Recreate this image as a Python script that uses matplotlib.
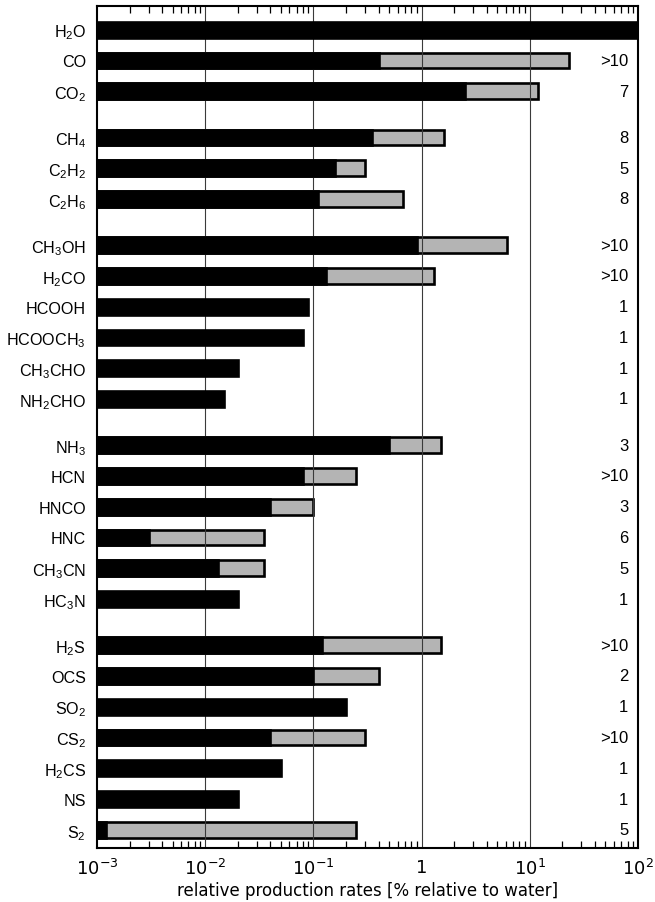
import numpy as np
import matplotlib
matplotlib.use("Agg")
import matplotlib.pyplot as plt
from matplotlib.ticker import LogLocator, NullFormatter, FixedLocator, FixedFormatter
import matplotlib.transforms as mtransforms

plt.rcParams['mathtext.fontset'] = 'custom'
plt.rcParams['mathtext.rm'] = 'Liberation Sans'
plt.rcParams['mathtext.it'] = 'Liberation Sans:italic'
plt.rcParams['mathtext.bf'] = 'Liberation Sans:bold'

# Molecules, grouped by chemical family
molecules = ['H$_2$O', 'CO', 'CO$_2$',
             'CH$_4$', 'C$_2$H$_2$', 'C$_2$H$_6$',
             'CH$_3$OH', 'H$_2$CO', 'HCOOH', 'HCOOCH$_3$', 'CH$_3$CHO', 'NH$_2$CHO',
             'NH$_3$', 'HCN', 'HNCO', 'HNC', 'CH$_3$CN', 'HC$_3$N',
             'H$_2$S', 'OCS', 'SO$_2$', 'CS$_2$', 'H$_2$CS', 'NS', 'S$_2$']
group = [0, 0, 0,
         1, 1, 1,
         2, 2, 2, 2, 2, 2,
         3, 3, 3, 3, 3, 3,
         4, 4, 4, 4, 4, 4, 4]

# Production rates relative to water [%]: lowest and highest measured value
rate_min = [100, 0.4, 2.5,
            0.35, 0.16, 0.11,
            0.9, 0.13, 0.09, 0.08, 0.02, 0.015,
            0.5, 0.08, 0.04, 0.003, 0.013, 0.02,
            0.12, 0.1, 0.2, 0.04, 0.05, 0.02, 0.0012]
rate_max = [None, 23, 12,
            1.6, 0.3, 0.68,
            6.2, 1.3, None, None, None, None,
            1.5, 0.25, 0.1, 0.035, 0.035, None,
            1.5, 0.4, None, 0.3, None, None, 0.25]

# Number of comets in which each molecule was measured
n_comets = ['', '>10', '7',
            '8', '5', '8',
            '>10', '>10', '1', '1', '1', '1',
            '3', '>10', '3', '6', '5', '1',
            '>10', '2', '1', '>10', '1', '1', '5']

x_lo, x_hi = 1e-3, 1e2
pos = np.arange(len(molecules)) + 0.5 * np.array(group)

fig = plt.figure(figsize=(6.55, 9.03), dpi=100)
ax = fig.add_axes([97 / 655, 1 - 849 / 903, 541 / 655, (849 - 7.3) / 903])
ax.set_xscale('log')
ax.set_xlim(x_lo, x_hi)
ax.set_ylim(26.59, -0.76)

bar_h = 0.51
edge_lw = 1.9

# Range bars (grey), then vertical decade lines, then minimum bars (black)
for p, hi in zip(pos, rate_max):
    if hi is not None:
        ax.barh(p, hi - x_lo, left=x_lo, height=bar_h, color='#b4b4b4',
                edgecolor='black', linewidth=edge_lw, zorder=1)
for xv in [1e-2, 1e-1, 1, 1e1]:
    ax.axvline(xv, color='#3a3a3a', linewidth=0.8, zorder=2)
for p, lo in zip(pos, rate_min):
    ax.barh(p, lo - x_lo, left=x_lo, height=bar_h, color='black',
            edgecolor='black', linewidth=edge_lw, zorder=3, clip_on=True)

# Comet counts on the right-hand side
trans = mtransforms.blended_transform_factory(ax.transAxes, ax.transData)
for p, n in zip(pos, n_comets):
    if n:
        ax.text(0.982, p, n, transform=trans, ha='right', va='center',
                fontsize=12, family='Liberation Sans', zorder=5)

# Axes styling
for s in ax.spines.values():
    s.set_linewidth(1.5)
    s.set_zorder(6)

ax.set_yticks(pos)
ax.set_yticklabels(molecules, fontsize=11.6, family='Liberation Sans')
ax.tick_params(axis='y', length=0, pad=8)

ax.xaxis.set_major_locator(FixedLocator([1e-3, 1e-2, 1e-1, 1, 1e1, 1e2]))
ax.xaxis.set_major_formatter(FixedFormatter(
    [r'$10^{-3}$', r'$10^{-2}$', r'$10^{-1}$', '1', r'$10^{1}$', r'$10^{2}$']))
ax.xaxis.set_minor_locator(LogLocator(base=10, subs=np.arange(2, 10), numticks=20))
ax.xaxis.set_minor_formatter(NullFormatter())
ax.tick_params(axis='x', which='both', direction='in', top=True, bottom=True,
               labelsize=13, pad=7)
ax.tick_params(axis='x', which='major', length=0)
ax.tick_params(axis='x', which='minor', length=5, width=0.9)
for lbl in ax.get_xticklabels():
    lbl.set_family('DejaVu Sans')
    lbl.set_math_fontfamily('dejavusans')

ax.set_xlabel('relative production rates [% relative to water]',
              fontsize=12, family='DejaVu Sans', labelpad=2)

fig.savefig('out.png', dpi=100)
